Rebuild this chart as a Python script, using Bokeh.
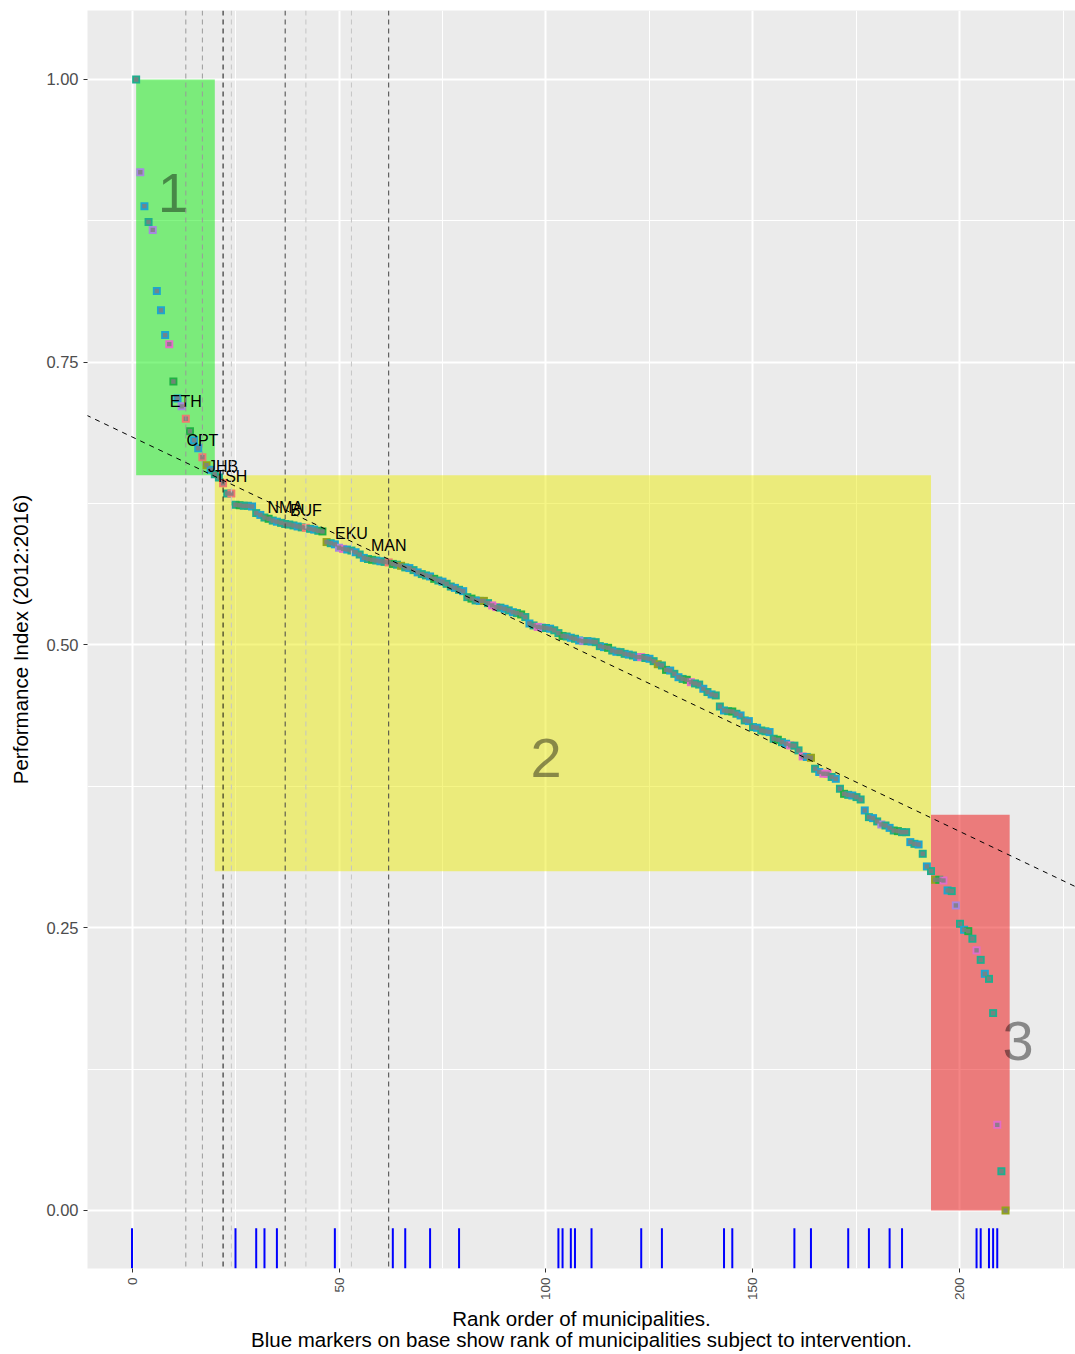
import math
from bokeh.plotting import figure
from bokeh.models import ColumnDataSource, Span, Slope, FixedTicker, Range1d, PrintfTickFormatter
from bokeh.core.properties import value
from bokeh.embed import file_html
from bokeh.resources import INLINE

# ---------------- data ----------------
perf_index = [
    1.000, 0.918, 0.888, 0.874, 0.867, 0.813, 0.796, 0.774, 0.766, 0.733,
    0.718, 0.711, 0.700, 0.689, 0.681, 0.674, 0.666, 0.659, 0.655, 0.651,
    0.648, 0.643, 0.634, 0.634, 0.624, 0.6236, 0.623, 0.623, 0.6225, 0.6166,
    0.615, 0.6127, 0.6116, 0.610, 0.609, 0.608, 0.607, 0.6065, 0.6057, 0.6048,
    0.604, 0.6036, 0.6027, 0.602, 0.601, 0.6004, 0.591, 0.590, 0.589, 0.586,
    0.585, 0.5844, 0.5835, 0.582, 0.580, 0.577, 0.576, 0.5753, 0.5747, 0.574,
    0.5735, 0.573, 0.5717, 0.571, 0.570, 0.5686, 0.568, 0.5662, 0.5642, 0.5627,
    0.5615, 0.5606, 0.5585, 0.557, 0.556, 0.5541, 0.5517, 0.5505, 0.5488, 0.5476,
    0.5423, 0.541, 0.5394, 0.539, 0.539, 0.537, 0.535, 0.5335, 0.533, 0.532,
    0.5306, 0.529, 0.5282, 0.527, 0.5247, 0.519, 0.5173, 0.516, 0.5155, 0.515,
    0.5144, 0.513, 0.5105, 0.508, 0.5075, 0.5064, 0.5055, 0.504, 0.5034, 0.5034,
    0.503, 0.5025, 0.499, 0.4981, 0.4975, 0.4951, 0.494, 0.4937, 0.4922, 0.4915,
    0.4907, 0.4893, 0.4893, 0.4885, 0.4878, 0.4857, 0.483, 0.4819, 0.478, 0.4774,
    0.4745, 0.4715, 0.470, 0.4692, 0.4671, 0.466, 0.465, 0.4613, 0.4584, 0.4563,
    0.4554, 0.4456, 0.4421, 0.4415, 0.4412, 0.4392, 0.4377, 0.4333, 0.4327, 0.4274,
    0.4268, 0.4244, 0.4237, 0.423, 0.4171, 0.4162, 0.4141, 0.4127, 0.4112, 0.411,
    0.4068, 0.4015, 0.401, 0.4003, 0.3906, 0.3877, 0.3862, 0.3861, 0.3833, 0.3817,
    0.3729, 0.3684, 0.3675, 0.3669, 0.3655, 0.3634, 0.3537, 0.3478, 0.3469, 0.344,
    0.3413, 0.3404, 0.3383, 0.336, 0.3354, 0.3345, 0.3345, 0.3257, 0.3242, 0.3236,
    0.3154, 0.3042, 0.3001, 0.2924, 0.2924, 0.2918, 0.283, 0.2824, 0.2697, 0.2535,
    0.2482, 0.247, 0.2403, 0.230, 0.2216, 0.2093, 0.2048, 0.1745, 0.0757, 0.0347,
    0.000,
]
ranks = list(range(1, len(perf_index) + 1))

# province group of each municipality (one letter per rank)
province_codes = (
    "TLBTLBBBPG" "BLRGBBROBT" "TRTRTGTTBT" "BTGTBTTTTB" "TRTBTGOTBL"
    "PBTBTBTGTB" "TRGTOTBTBT" "TBGTBTTBTB" "TGTBOTPPTB" "TBTGTBTPLT"
    "BTTGTBTBLT" "BTTBGTBTTB" "TBPTBTOTGB" "TBTGPTTBTB" "TTBTGTBTBT"
    "BTTBTGTBPT" "TPBOTBPPTB" "TGTBTTBTBT" "LTBTGTTBTB" "TBTOGPBTLT"
    "BGTPTBTTPT" "O"
)
province_palette = {
    "T": "#1FAE8E", "B": "#1DA6D0", "G": "#1FB043", "L": "#A788E0",
    "P": "#E46CC8", "R": "#F07A70", "O": "#93A41A",
}

metro_names = ["ETH", "CPT", "JHB", "TSH", "NMA", "BUF", "EKU", "MAN"]
metro_ranks = [13, 17, 22, 24, 37, 42, 53, 62]
metro_line_colors = ["#9A9A9A", "#9A9A9A", "#111111", "#C4C4C4",
                     "#444444", "#C4C4C4", "#C4C4C4", "#444444"]

intervention_ranks = [0, 25, 30, 32, 35, 49, 63, 66, 72, 79, 103, 104, 106, 107,
                      111, 123, 128, 143, 145, 160, 164, 173, 178, 183, 186,
                      204, 205, 207, 208, 209]

zone_labels = ["1", "2", "3"]
zone_x0 = [1, 20, 193]
zone_x1 = [20, 193, 212]
zone_y0 = [0.65, 0.30, 0.00]
zone_y1 = [1.00, 0.65, 0.35]
zone_colors = ["#00EB00", "#EBEB00", "#EB0000"]
zone_label_x = [10, 100, 214]
zone_label_y = [0.90, 0.40, 0.15]

trend_intercept = 0.684
trend_slope = -0.001745

x_ticks = [0, 50, 100, 150, 200]
x_minor = [25, 75, 125, 175, 225]
y_ticks = [0.0, 0.25, 0.50, 0.75, 1.00]
y_minor = [0.125, 0.375, 0.625, 0.875]

# ---------------- figure ----------------
FONT = "Liberation Sans"
x_lo, x_hi = -10.75, 227.9
y_lo, y_hi = -0.0513, 1.061

p = figure(width=1075, height=1354, output_backend="svg", toolbar_location=None,
           x_range=Range1d(x_lo, x_hi), y_range=Range1d(y_lo, y_hi),
           min_border_left=87, min_border_right=0, min_border_top=10, min_border_bottom=86)
p.background_fill_color = "#EBEBEB"
p.border_fill_color = "white"
p.outline_line_color = None

for ax, tk, mn in ((p.xaxis, x_ticks, x_minor), (p.yaxis, y_ticks, y_minor)):
    ax.ticker = FixedTicker(ticks=tk, minor_ticks=mn)
    ax.axis_line_color = None
    ax.major_tick_line_color = "#333333"
    ax.major_tick_in = 0
    ax.major_tick_out = 4
    ax.minor_tick_line_color = None
    ax.major_label_text_font = FONT
    ax.major_label_text_font_size = "16.5px"
    ax.major_label_text_color = "#4D4D4D"
    ax.axis_label_text_font = FONT
    ax.axis_label_text_font_size = "20.5px"
    ax.axis_label_text_font_style = "normal"
    ax.axis_label_text_color = "black"

p.yaxis.formatter = PrintfTickFormatter(format="%.2f")
p.yaxis.major_label_standoff = 5
p.yaxis.axis_label = "Performance Index (2012:2016)"
p.yaxis.axis_label_standoff = 11
p.xaxis.major_label_orientation = math.pi / 2
p.xaxis.major_label_text_font_size = "13.5px"
p.xaxis.major_label_standoff = 5
p.xaxis.axis_label = ("Rank order of municipalities.\n"
                      "Blue markers on base show rank of municipalities subject to intervention.")
p.xaxis.axis_label_standoff = 4
p.xaxis.axis_label_text_line_height = 0.93

for g in (p.xgrid, p.ygrid):
    g.grid_line_color = "white"
    g.grid_line_width = 2
    g.minor_grid_line_color = "white"
    g.minor_grid_line_width = 1

# zones
zsrc = ColumnDataSource(dict(x0=zone_x0, x1=zone_x1, y0=zone_y0, y1=zone_y1, c=zone_colors))
p.quad(left="x0", right="x1", bottom="y0", top="y1", fill_color="c",
       fill_alpha=0.48, line_color=None, source=zsrc)

# points
psrc = ColumnDataSource(dict(x=ranks, y=perf_index,
                             c=[province_palette[k] for k in province_codes]))
p.scatter(x="x", y="y", marker="square", size=8, fill_color="c", line_color=None, source=psrc)
p.scatter(x="x", y="y", marker="square", size=4.4, fill_color="#7F7F7F",
          fill_alpha=0.85, line_color=None, source=psrc)

# rug of intervention ranks
rug_len = 0.032 * (y_hi - y_lo)
p.segment(x0=intervention_ranks, x1=intervention_ranks,
          y0=[y_lo] * len(intervention_ranks), y1=[y_lo + rug_len] * len(intervention_ranks),
          line_color="#0000FF", line_width=2)

# metro vertical lines
for r, c in zip(metro_ranks, metro_line_colors):
    p.add_layout(Span(location=r, dimension="height", line_color=c,
                      line_width=1, line_dash="5 4"))

# trend line
p.add_layout(Slope(gradient=trend_slope, y_intercept=trend_intercept,
                   line_color="black", line_width=1, line_dash="5 5"))

# metro labels
msrc = ColumnDataSource(dict(x=metro_ranks, y=[perf_index[r - 1] + 0.015 for r in metro_ranks],
                             t=metro_names))
p.text(x="x", y="y", text="t", source=msrc, text_font=value(FONT), text_font_size="16px",
       text_align="center", text_baseline="middle", text_color="black")

# zone numbers
lsrc = ColumnDataSource(dict(x=zone_label_x, y=zone_label_y, t=zone_labels))
p.text(x="x", y="y", text="t", source=lsrc, text_font=value(FONT), text_font_size="56px",
       text_align="center", text_baseline="middle", text_color="black", text_alpha=0.42)

open("out.html", "w").write(file_html(p, INLINE))
